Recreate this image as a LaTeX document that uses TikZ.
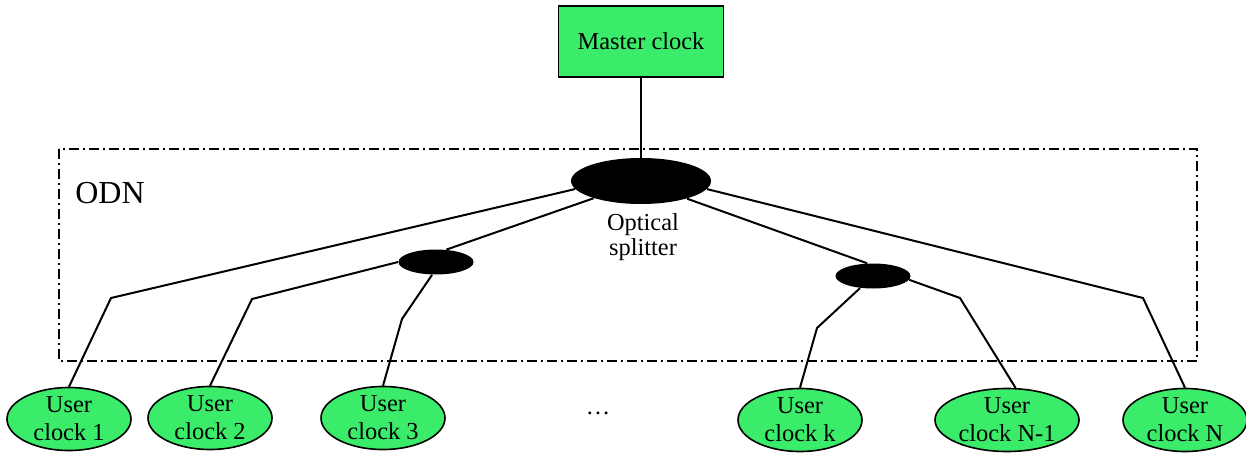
\documentclass[tikz,border=0pt]{standalone}
\usepackage{fontspec}
\setmainfont{Liberation Serif}
\usetikzlibrary{shapes.geometric}
\definecolor{clockgreen}{RGB}{58,236,106}
\tikzset{
  masternode/.style={draw, line width=0.9pt, fill=clockgreen, minimum width=82.5pt, minimum height=35.5pt, inner sep=0pt},
  clocknode/.style={draw, ellipse, line width=0.8pt, fill=clockgreen, minimum width=62pt, minimum height=31.5pt, inner sep=0pt, align=center, font=\fontsize{12.2}{14}\selectfont},
  splitnode/.style={ellipse, fill=black, inner sep=0pt},
  fibre/.style={line width=1pt},
  odnbox/.style={line width=0.7pt, dash pattern=on 5pt off 2pt on 1pt off 2pt}
}
\begin{document}
\begin{tikzpicture}[x=0.5pt, y=-0.5pt, every node/.style={font=\fontsize{12.2}{12.5}\selectfont}]
      \useasboundingbox (0,0) rectangle (1246,454);
      \draw[odnbox] (59,149) rectangle (1197,361);
      \node[masternode] (master) at (641,41.5) {Master clock};
      \node[splitnode, minimum width=70pt, minimum height=23pt] (split) at (641,181) {};
      \node[align=center] (splitlabel) at (643,237) {Optical\\splitter};
      \node[font=\fontsize{16}{18}\selectfont] (odn) at (110,193) {ODN};
      \node[splitnode, minimum width=37.5pt, minimum height=12.5pt] (splitL) at (436,262) {};
      \node[splitnode, minimum width=37.5pt, minimum height=12.5pt] (splitR) at (873,276) {};
      \node[clocknode] (c1) at (69,419) {User\\clock 1};
      \node[clocknode] (c2) at (210,418) {User\\clock 2};
      \node[clocknode] (c3) at (383,418) {User\\clock 3};
      \node (dots) at (598,413) {\dots};
      \node[clocknode] (ck) at (800,420) {User\\clock k};
      \node[clocknode, minimum width=72pt] (cn1) at (1007,420) {User\\clock N-1};
      \node[clocknode] (cN) at (1185,420) {User\\clock N};
      \coordinate (b1) at (111,298);
      \coordinate (b2) at (252,299);
      \coordinate (b3) at (402,319);
      \coordinate (bk) at (817,328);
      \coordinate (bn1) at (960,298);
      \coordinate (bN) at (1143,298);
      \draw[fibre] (master.south) -- (split.north);
      \draw[fibre] (split.187) -- (b1) -- (c1.north);
      \draw[fibre] (split.200) -- (splitL.50);
      \draw[fibre] (splitL.west) -- (b2) -- (c2.north);
      \draw[fibre] (splitL.253) -- (b3) -- (c3.north);
      \draw[fibre] (split.339) -- (splitR.115);
      \draw[fibre] (splitR.223) -- (bk) -- (ck.north);
      \draw[fibre] (splitR.354) -- (bn1) -- (cn1.75);
      \draw[fibre] (split.353) -- (bN) -- (cN.north);
    \end{tikzpicture}
\end{document}
